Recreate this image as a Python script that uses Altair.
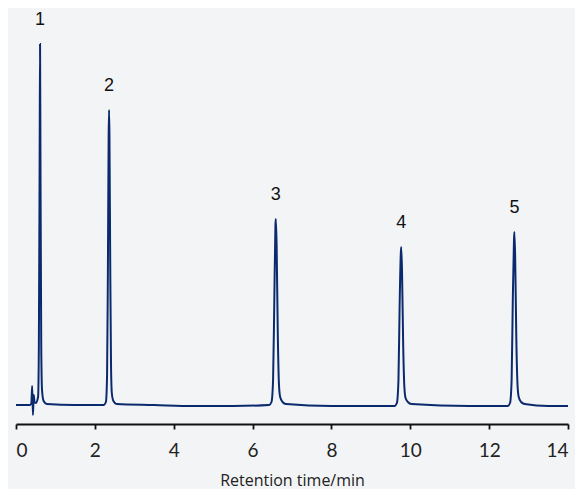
import altair as alt
import pandas as pd

# Chromatogram trace (retention time in min, detector signal in arbitrary units)
time = [
    0.00, 0.20, 0.36, 0.39, 0.41, 0.43, 0.45, 0.47, 0.50,
    0.56, 0.58, 0.60, 0.61, 0.62, 0.64, 0.66, 0.70, 0.78,
    1.50, 2.22, 2.28, 2.31, 2.33, 2.35, 2.36, 2.37, 2.39, 2.41, 2.43, 2.47, 2.55,
    3.50, 4.50, 5.50, 6.42, 6.48, 6.52, 6.55, 6.58, 6.59, 6.61, 6.64, 6.67, 6.70, 6.76, 6.85,
    8.00, 9.60, 9.66, 9.70, 9.73, 9.76, 9.77, 9.79, 9.82, 9.85, 9.88, 9.94, 10.03,
    11.50, 12.47, 12.53, 12.57, 12.60, 12.63, 12.64, 12.66, 12.69, 12.72, 12.75, 12.81, 12.90,
    13.50, 14.00,
]
signal = [
    0, 0, 0, 2, 19, -10, 10, 3, 2,
    8, 60, 250, 361, 250, 60, 15, 4, 1,
    0, 0, 3, 30, 130, 270, 295, 270, 140, 40, 12, 4, 1,
    0, -1, -1, 0, 3, 25, 100, 180, 186, 160, 70, 20, 8, 3, 1,
    -1, -1, 2, 25, 100, 152, 158, 135, 60, 18, 7, 3, 1,
    -1, -1, 2, 25, 105, 165, 173, 148, 65, 20, 8, 3, 1,
    -1, -1,
]

# Peak annotations
peak_names = ["1", "2", "3", "4", "5"]
peak_times = [0.61, 2.36, 6.59, 9.77, 12.64]
peak_heights = [361, 295, 186, 158, 173]

trace = pd.DataFrame({"t": time, "s": signal})
peaks = pd.DataFrame({"name": peak_names, "t": peak_times, "s": peak_heights})

xscale = alt.Scale(domain=[0, 14], nice=False, zero=False)
yscale = alt.Scale(domain=[-19, 395], nice=False, zero=False)

line = alt.Chart(trace).mark_line(color="#0b2a6e", strokeWidth=2, interpolate="monotone").encode(
    x=alt.X("t:Q", scale=xscale,
            axis=alt.Axis(title="Retention time/min", values=list(range(0, 15, 2)),
                          grid=False, domainColor="#111111", domainWidth=1.8,
                          tickColor="#111111", tickWidth=1.8, tickSize=5,
                          labelFont="Lato", labelFontSize=19, labelColor="#222222",
                          labelPadding=12, labelFontWeight="normal",
                          titleFont="Open Sans", titleFontSize=16, titleColor="#222222",
                          titleFontWeight="normal", titlePadding=12)),
    y=alt.Y("s:Q", scale=yscale, axis=None),
)

labels = alt.Chart(peaks).mark_text(
    font="Liberation Sans", fontSize=18, color="#111111", dy=-24, baseline="middle"
).encode(
    x=alt.X("t:Q", scale=xscale),
    y=alt.Y("s:Q", scale=yscale),
    text="name:N",
)

chart = (line + labels).properties(
    width=552, height=414,
    autosize=alt.AutoSizeParams(type="none"),
    padding={"left": 8, "top": 2, "right": 7, "bottom": 65},
    background="#f3f4f6",
).configure_view(stroke=None)

chart.save("out.html", embed_options={"renderer": "svg", "actions": False})
